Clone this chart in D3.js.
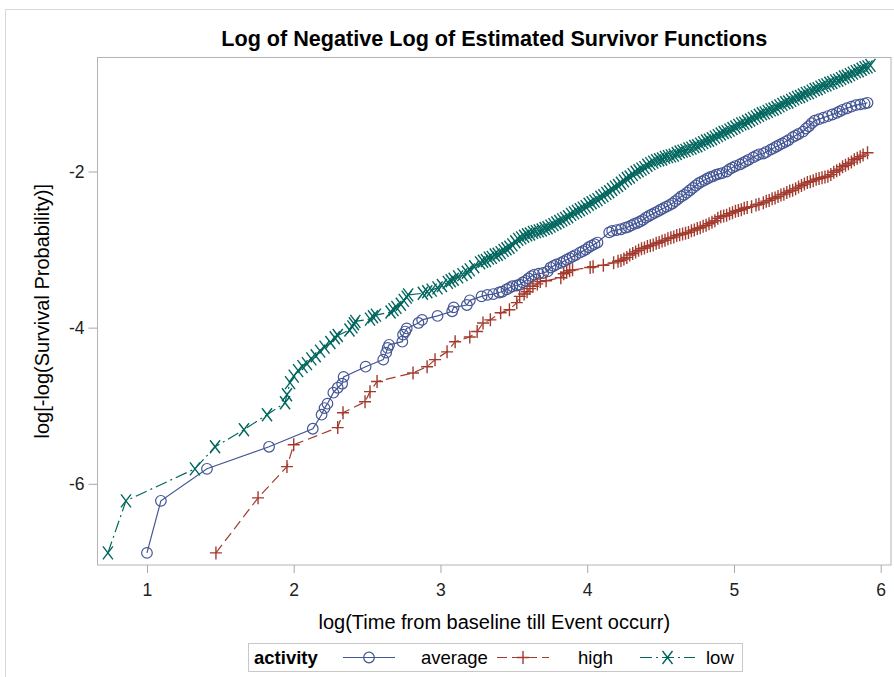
<!DOCTYPE html>
<html><head><meta charset="utf-8">
<script src="https://cdn.jsdelivr.net/npm/d3@7"></script>
<style>body{margin:0;background:#fff}svg{display:block}</style>
</head><body>
<svg id="c" width="894" height="677"></svg>
<script>
const xTicks = [1, 2, 3, 4, 5, 6];
const yTicks = [-6, -4, -2];
const seriesNames = ["average", "high", "low"];

const averagePts = [[1.00,-6.885],[1.095,-6.218],[1.409,-5.808],[1.832,-5.526],[2.13,-5.295],[2.19,-5.115],[2.21,-5.03],[2.23,-4.974],[2.27,-4.833],[2.30,-4.77],[2.33,-4.718],[2.34,-4.63],
[2.49,-4.50],[2.61,-4.41],[2.63,-4.32],[2.64,-4.26],[2.65,-4.22],[2.74,-4.18],[2.745,-4.09],[2.76,-4.05],[2.77,-4.01],[2.85,-3.94],[2.875,-3.90],[2.98,-3.85],[3.08,-3.79],[3.09,-3.74],[3.18,-3.71],[3.20,-3.65],
[3.28,-3.60],[3.32,-3.58],[3.36,-3.57],[3.40,-3.55],[3.42,-3.54],[3.45,-3.51],[3.47,-3.49],[3.49,-3.47],[3.52,-3.46],[3.54,-3.45],[3.56,-3.42],[3.58,-3.40],[3.60,-3.37],[3.62,-3.34],[3.64,-3.32],[3.67,-3.31],[3.70,-3.30],[3.73,-3.28],[3.75,-3.23],[3.77,-3.21],[3.79,-3.19],[3.82,-3.17],[3.84,-3.15],[3.86,-3.13],[3.88,-3.11],[3.90,-3.09],[3.92,-3.07],[3.95,-3.04],[3.97,-3.02],[3.99,-3.00],[4.01,-2.97],[4.03,-2.95],[4.05,-2.93],[4.07,-2.91],
[4.15,-2.78],[4.17,-2.76],[4.20,-2.75],[4.23,-2.74],[4.26,-2.72],[4.28,-2.71],[4.30,-2.69],[4.32,-2.67],[4.34,-2.66],[4.36,-2.64],[4.38,-2.62],[4.40,-2.59],[4.42,-2.57],[4.44,-2.55],[4.46,-2.53],[4.48,-2.51],[4.50,-2.49],[4.52,-2.47],[4.54,-2.45],[4.56,-2.43],[4.58,-2.41],[4.60,-2.38],[4.62,-2.35],[4.64,-2.32],[4.66,-2.30],[4.68,-2.27],[4.70,-2.24],[4.72,-2.21],[4.74,-2.18],[4.76,-2.15],[4.78,-2.13],[4.80,-2.11],[4.82,-2.09],[4.84,-2.07],[4.86,-2.06],[4.88,-2.04],[4.90,-2.03],[4.92,-2.02],[4.95,-2.00],[4.97,-1.97],[4.99,-1.95],[5.01,-1.93],[5.04,-1.91],[5.06,-1.89],[5.08,-1.87],[5.10,-1.85],[5.13,-1.82],[5.15,-1.80],[5.17,-1.78],[5.20,-1.77],[5.22,-1.75],[5.25,-1.72],[5.27,-1.70],[5.29,-1.68],[5.31,-1.66],[5.33,-1.64],[5.35,-1.62],[5.37,-1.60],[5.40,-1.56],[5.42,-1.54],[5.44,-1.52],[5.47,-1.49],[5.49,-1.45],[5.51,-1.42],[5.53,-1.38],[5.55,-1.35],[5.58,-1.33],[5.61,-1.31],[5.64,-1.29],[5.67,-1.27],[5.70,-1.25],[5.72,-1.23],[5.74,-1.21],[5.77,-1.19],[5.80,-1.17],[5.83,-1.15],[5.86,-1.14],[5.89,-1.13],[5.91,-1.12]];

const highPts = [[1.47,-6.885],[1.757,-6.18],[1.954,-5.78],[2.00,-5.50],[2.30,-5.28],[2.336,-5.09],[2.486,-4.95],[2.52,-4.82],[2.568,-4.69],[2.813,-4.58],[2.909,-4.50],[2.963,-4.41],[3.045,-4.31],[3.10,-4.18],[3.20,-4.12],[3.25,-4.05],[3.29,-3.94],[3.34,-3.90],[3.41,-3.81],[3.47,-3.77],[3.52,-3.68],[3.54,-3.60],[3.57,-3.57],[3.59,-3.54],[3.61,-3.50],[3.63,-3.47],[3.66,-3.44],
[3.68,-3.41],[3.72,-3.40],[3.82,-3.36],[3.84,-3.31],[3.86,-3.29],[3.88,-3.27],[3.90,-3.26],[4.02,-3.23],[4.04,-3.22],[4.11,-3.20],[4.18,-3.17],[4.21,-3.15],[4.23,-3.14],[4.25,-3.12],[4.27,-3.10],[4.29,-3.07],[4.31,-3.05],[4.33,-3.03],[4.35,-3.01],[4.37,-2.99],[4.39,-2.98],[4.41,-2.96],[4.43,-2.95],[4.45,-2.94],[4.47,-2.92],[4.49,-2.91],[4.51,-2.89],[4.53,-2.88],[4.55,-2.86],[4.57,-2.85],[4.59,-2.84],[4.61,-2.82],[4.63,-2.81],[4.65,-2.80],[4.67,-2.79],[4.69,-2.78],[4.71,-2.76],[4.73,-2.75],[4.75,-2.73],[4.77,-2.72],[4.79,-2.70],[4.81,-2.69],[4.83,-2.67],[4.85,-2.65],[4.87,-2.63],[4.89,-2.60],[4.91,-2.58],[4.93,-2.57],[4.95,-2.56],[4.97,-2.54],[4.99,-2.53],[5.01,-2.51],[5.03,-2.50],[5.05,-2.49],[5.07,-2.47],[5.09,-2.46],[5.12,-2.45],[5.15,-2.43],[5.17,-2.42],[5.20,-2.40],[5.22,-2.38],[5.24,-2.37],[5.26,-2.35],[5.28,-2.34],[5.30,-2.32],[5.32,-2.30],[5.34,-2.29],[5.36,-2.27],[5.38,-2.25],[5.40,-2.24],[5.42,-2.22],[5.44,-2.20],[5.46,-2.18],[5.48,-2.16],[5.50,-2.14],[5.52,-2.13],[5.54,-2.12],[5.56,-2.10],[5.58,-2.09],[5.60,-2.08],[5.62,-2.07],[5.64,-2.06],[5.66,-2.04],[5.68,-2.01],[5.70,-1.99],[5.72,-1.97],[5.74,-1.94],[5.76,-1.92],[5.78,-1.90],[5.80,-1.88],[5.82,-1.85],[5.84,-1.83],[5.86,-1.81],[5.88,-1.79],[5.91,-1.76]];

const lowPts = [[0.734,-6.885],[0.857,-6.218],[1.327,-5.808],[1.464,-5.526],[1.661,-5.308],[1.818,-5.115],[1.941,-4.962],[1.954,-4.859],[1.975,-4.705],
[2.00,-4.62],[2.03,-4.55],[2.06,-4.50],[2.09,-4.46],[2.12,-4.40],[2.15,-4.36],[2.18,-4.30],[2.21,-4.25],[2.25,-4.19],[2.28,-4.13],[2.30,-4.10],
[2.38,-4.03],[2.40,-3.99],[2.41,-3.95],[2.42,-3.92],[2.52,-3.89],[2.54,-3.86],[2.56,-3.84],[2.66,-3.80],[2.68,-3.77],[2.70,-3.74],[2.73,-3.70],[2.75,-3.65],[2.77,-3.61],[2.78,-3.58],
[2.88,-3.56],[2.91,-3.54],[2.94,-3.52],[2.98,-3.49],[3.01,-3.46],[3.05,-3.42],[3.07,-3.40],[3.09,-3.38],[3.12,-3.35],[3.15,-3.32],[3.18,-3.29],[3.20,-3.26],[3.23,-3.22],[3.27,-3.17],
[3.29,-3.15],[3.31,-3.14],[3.33,-3.11],[3.35,-3.10],[3.37,-3.07],[3.39,-3.06],[3.41,-3.04],[3.43,-3.01],[3.45,-2.99],[3.47,-2.97],[3.49,-2.94],[3.51,-2.90],[3.53,-2.87],[3.55,-2.85],[3.57,-2.83],[3.59,-2.81],[3.61,-2.80],[3.63,-2.78],[3.65,-2.77],[3.67,-2.76],[3.69,-2.75],[3.71,-2.73],[3.73,-2.72],[3.75,-2.70],[3.77,-2.68],[3.79,-2.66],[3.81,-2.64],[3.83,-2.62],[3.85,-2.60],[3.87,-2.58],[3.89,-2.55],[3.91,-2.53],[3.93,-2.51],[3.95,-2.49],[3.97,-2.47],[3.99,-2.45],[4.01,-2.42],[4.03,-2.40],[4.05,-2.38],[4.07,-2.36],[4.09,-2.33],[4.11,-2.31],[4.13,-2.28],[4.15,-2.26],[4.17,-2.23],[4.19,-2.20],[4.21,-2.18],[4.23,-2.15],[4.25,-2.12],[4.27,-2.09],[4.29,-2.07],[4.31,-2.04],[4.33,-2.01],[4.35,-1.99],[4.37,-1.97],[4.39,-1.95],[4.41,-1.92],[4.43,-1.90],[4.45,-1.88],[4.47,-1.86],[4.49,-1.85],[4.51,-1.84],[4.53,-1.82],[4.55,-1.81],[4.57,-1.80],[4.59,-1.79],[4.61,-1.77],[4.63,-1.75],[4.65,-1.74],[4.67,-1.73],[4.69,-1.71],[4.71,-1.70],[4.73,-1.68],[4.75,-1.67],[4.77,-1.65],[4.79,-1.63],[4.81,-1.61],[4.83,-1.60],[4.85,-1.58],[4.87,-1.56],[4.89,-1.54],[4.91,-1.52],[4.93,-1.50],[4.95,-1.49],[4.97,-1.47],[4.99,-1.45],[5.01,-1.43],[5.03,-1.41],[5.05,-1.39],[5.07,-1.38],[5.09,-1.36],[5.11,-1.34],[5.13,-1.32],[5.15,-1.30],[5.17,-1.28],[5.19,-1.26],[5.21,-1.25],[5.23,-1.23],[5.25,-1.21],[5.27,-1.20],[5.29,-1.18],[5.31,-1.16],[5.33,-1.14],[5.35,-1.12],[5.37,-1.11],[5.39,-1.09],[5.41,-1.07],[5.43,-1.05],[5.45,-1.04],[5.47,-1.02],[5.49,-1.00],[5.51,-0.99],[5.53,-0.97],[5.55,-0.95],[5.57,-0.94],[5.59,-0.92],[5.61,-0.90],[5.63,-0.89],[5.65,-0.87],[5.67,-0.86],[5.69,-0.84],[5.71,-0.83],[5.73,-0.81],[5.75,-0.79],[5.77,-0.78],[5.79,-0.76],[5.81,-0.74],[5.83,-0.72],[5.85,-0.71],[5.87,-0.69],[5.89,-0.67],[5.91,-0.66],[5.93,-0.64]];

const seriesData = [averagePts, highPts, lowPts];
const seriesColors = ["#445694", "#A23A2E", "#01665E"];
const seriesDash = [null, "10,5", "12,4,2,4"];
const seriesMarker = ["circle", "plus", "x"];

const FONT = "'Liberation Sans', Arial, sans-serif";
const svg = d3.select("#c");
const L = 97.5, R = 891, T = 57.5, B = 565;

svg.append("path").attr("d", "M5.5,677V9.5H894").attr("fill", "none").attr("stroke", "#d8d8d8");

const x = d3.scaleLinear().domain([0.663, 6.07]).range([L, R]);
const y = d3.scaleLinear().domain([-7.04, -0.54]).range([B, T]);

const gx = svg.append("g").attr("transform", `translate(0,${B})`)
  .call(d3.axisBottom(x).tickValues(xTicks).tickSize(8).tickPadding(11).tickFormat(d3.format("d")));
const gy = svg.append("g").attr("transform", `translate(${L},0)`)
  .call(d3.axisLeft(y).tickValues(yTicks).tickSize(9).tickPadding(4).tickFormat(d => String(d)));
[gx, gy].forEach(g => {
  g.select(".domain").remove();
  g.selectAll(".tick line").attr("stroke", "#a8a8a8");
  g.selectAll(".tick text").attr("fill", "#222").style("font-family", FONT).style("font-size", "17.5px");
});

svg.append("rect").attr("x", L).attr("y", T).attr("width", R - L).attr("height", B - T)
  .attr("fill", "none").attr("stroke", "#b4b4b4");

svg.append("clipPath").attr("id", "clip").append("rect")
  .attr("x", L).attr("y", T).attr("width", R - L).attr("height", B - T);
const plot = svg.append("g").attr("clip-path", "url(#clip)");

function marker(sel, type, color) {
  if (type === "circle") {
    sel.append("circle").attr("r", 5.3).attr("fill", "none").attr("stroke", color).attr("stroke-width", 1.2);
  } else if (type === "plus") {
    sel.append("path").attr("d", "M-6,0H6M0,-6.5V6.5").attr("stroke", color).attr("stroke-width", 1.4).attr("fill", "none");
  } else {
    sel.append("path").attr("d", "M-5,-6.5L5,6.5M-5,6.5L5,-6.5").attr("stroke", color).attr("stroke-width", 1.4).attr("fill", "none");
  }
}

const line = d3.line().x(d => x(d[0])).y(d => y(d[1]));
seriesData.forEach((pts, i) => {
  plot.append("path").datum(pts).attr("d", line).attr("fill", "none")
    .attr("stroke", seriesColors[i]).attr("stroke-width", 1.2)
    .attr("stroke-dasharray", seriesDash[i]);
  plot.append("g").selectAll("g").data(pts).join("g")
    .attr("transform", d => `translate(${x(d[0])},${y(d[1])})`)
    .each(function () { marker(d3.select(this), seriesMarker[i], seriesColors[i]); });
});

svg.append("text").attr("x", (L + R) / 2).attr("y", 46).attr("text-anchor", "middle")
  .style("font-family", FONT).style("font-size", "21.5px").style("font-weight", "bold").attr("fill", "#000")
  .attr("textLength", 546).attr("lengthAdjust", "spacingAndGlyphs")
  .text("Log of Negative Log of Estimated Survivor Functions");

svg.append("text").attr("x", (L + R) / 2).attr("y", 629).attr("text-anchor", "middle")
  .style("font-family", FONT).style("font-size", "20px").attr("fill", "#000")
  .text("log(Time from baseline till Event occurr)");
svg.append("text").attr("transform", `translate(49,${(T + B) / 2}) rotate(-90)`).attr("text-anchor", "middle")
  .style("font-family", FONT).style("font-size", "20px").attr("fill", "#000")
  .text("log[-log(Survival Probability)]");

const lg = svg.append("g");
lg.append("rect").attr("x", 248.5).attr("y", 643.5).attr("width", 494).attr("height", 28)
  .attr("fill", "none").attr("stroke", "#c8c8c8");
lg.append("text").attr("x", 254).attr("y", 664).style("font-family", FONT).style("font-size", "18.5px")
  .style("font-weight", "bold").attr("fill", "#000").text("activity");
const legX = [[343, 395, 421], [497, 549, 578], [640, 695, 706]];
seriesNames.forEach((name, i) => {
  const [a, b, t] = legX[i];
  lg.append("line").attr("x1", a).attr("x2", b).attr("y1", 657.5).attr("y2", 657.5)
    .attr("stroke", seriesColors[i]).attr("stroke-width", 1.2).attr("stroke-dasharray", seriesDash[i]);
  const m = lg.append("g").attr("transform", `translate(${(a + b) / 2},657.5)`);
  marker(m, seriesMarker[i], seriesColors[i]);
  lg.append("text").attr("x", t).attr("y", 664).style("font-family", FONT).style("font-size", "18.5px")
    .attr("fill", "#000").text(name);
});
</script>
</body></html>
